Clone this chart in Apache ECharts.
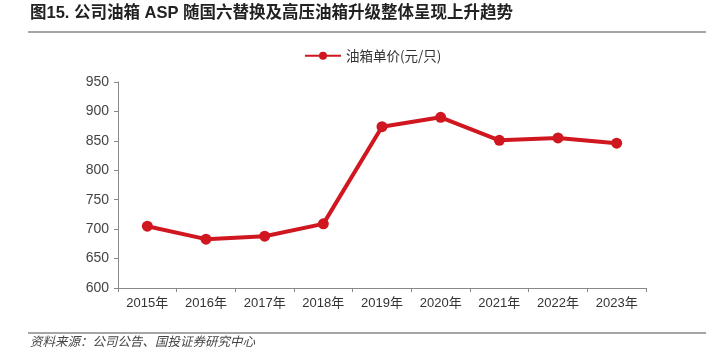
<!DOCTYPE html>
<html><head><meta charset="utf-8">
<script src="https://cdn.jsdelivr.net/npm/echarts@6/dist/echarts.min.js"></script>
<style>html,body{margin:0;padding:0;background:#fff}#c{width:714px;height:359px}</style>
</head><body><div id="c"></div>
<script>
const categories = ['2015年','2016年','2017年','2018年','2019年','2020年','2021年','2022年','2023年'];
const asp = [705, 683, 688, 709, 874, 890, 851, 855, 846];
const seriesName = '油箱单价(元/只)';
const yTicks = {min: 600, max: 950, interval: 50};

const chart = echarts.init(document.getElementById('c'));
chart.setOption({
  animation: false,
  textStyle: {fontFamily: 'Liberation Sans, "Noto Sans CJK SC", sans-serif'},
  graphic: [
    {type: 'text', left: 30, top: 5, style: {text: '图15. 公司油箱 ASP 随国六替换及高压油箱升级整体呈现上升趋势', font: 'bold 16.5px "Liberation Sans", "Noto Sans CJK SC", sans-serif', fill: '#222'}},
    {type: 'line', shape: {x1: 28, y1: 32, x2: 706, y2: 32}, style: {stroke: '#888', lineWidth: 1.5}},
    {type: 'line', shape: {x1: 28, y1: 333, x2: 706, y2: 333}, style: {stroke: '#888', lineWidth: 1.5}},
    {type: 'text', left: 30, top: 335, style: {text: '资料来源：公司公告、国投证券研究中心', font: 'italic 12.5px "Noto Sans CJK SC", sans-serif', fill: '#444'}}
  ],
  legend: {
    top: 44, left: 299,
    itemWidth: 36, itemHeight: 10, itemGap: 6,
    textStyle: {fontSize: 13.5, color: '#333', fontFamily: '"Noto Sans CJK SC", sans-serif'},
    data: [seriesName]
  },
  grid: {left: 118, right: 68, top: 82, bottom: 71, containLabel: false},
  xAxis: {
    type: 'category', data: categories, boundaryGap: true,
    axisLine: {lineStyle: {color: '#888', width: 1}},
    axisTick: {show: true, lineStyle: {color: '#888'}, length: 4},
    axisLabel: {color: '#333', fontSize: 13, margin: 9}
  },
  yAxis: {
    type: 'value', min: yTicks.min, max: yTicks.max, interval: yTicks.interval,
    axisLine: {show: true, lineStyle: {color: '#888', width: 1}},
    axisTick: {show: true, length: 4, lineStyle: {color: '#888'}},
    splitLine: {show: false},
    axisLabel: {color: '#444', fontSize: 14, margin: 9}
  },
  series: [{
    name: seriesName, type: 'line', data: asp,
    symbol: 'circle', symbolSize: 11,
    lineStyle: {color: '#d0171f', width: 4},
    itemStyle: {color: '#d0171f'}
  }]
});
</script></body></html>
